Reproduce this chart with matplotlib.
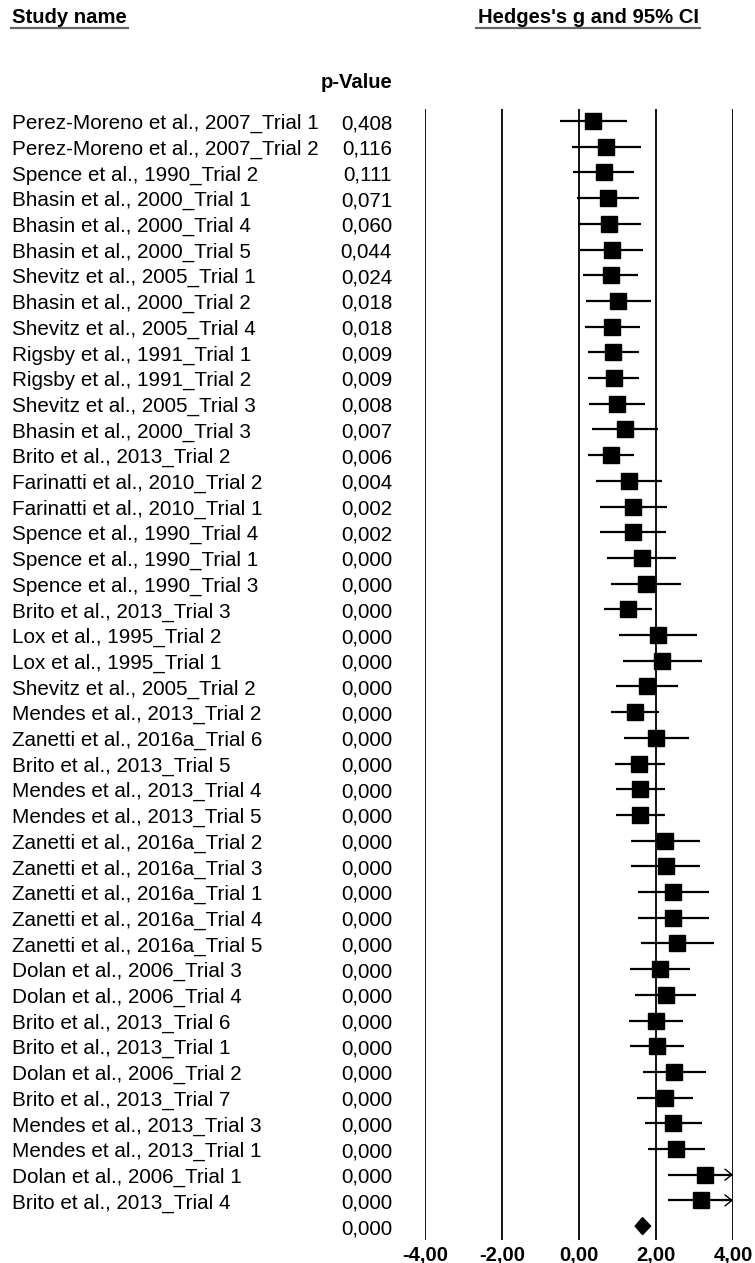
import matplotlib
matplotlib.use('Agg')
import matplotlib.pyplot as plt
import matplotlib.transforms as mtransforms
from matplotlib.patches import Polygon

plt.rcParams['font.family'] = ['Liberation Sans', 'DejaVu Sans']

studies = [
    "Perez-Moreno et al., 2007_Trial 1",
    "Perez-Moreno et al., 2007_Trial 2",
    "Spence et al., 1990_Trial 2",
    "Bhasin et al., 2000_Trial 1",
    "Bhasin et al., 2000_Trial 4",
    "Bhasin et al., 2000_Trial 5",
    "Shevitz et al., 2005_Trial 1",
    "Bhasin et al., 2000_Trial 2",
    "Shevitz et al., 2005_Trial 4",
    "Rigsby et al., 1991_Trial 1",
    "Rigsby et al., 1991_Trial 2",
    "Shevitz et al., 2005_Trial 3",
    "Bhasin et al., 2000_Trial 3",
    "Brito et al., 2013_Trial 2",
    "Farinatti et al., 2010_Trial 2",
    "Farinatti et al., 2010_Trial 1",
    "Spence et al., 1990_Trial 4",
    "Spence et al., 1990_Trial 1",
    "Spence et al., 1990_Trial 3",
    "Brito et al., 2013_Trial 3",
    "Lox et al., 1995_Trial 2",
    "Lox et al., 1995_Trial 1",
    "Shevitz et al., 2005_Trial 2",
    "Mendes et al., 2013_Trial 2",
    "Zanetti et al., 2016a_Trial 6",
    "Brito et al., 2013_Trial 5",
    "Mendes et al., 2013_Trial 4",
    "Mendes et al., 2013_Trial 5",
    "Zanetti et al., 2016a_Trial 2",
    "Zanetti et al., 2016a_Trial 3",
    "Zanetti et al., 2016a_Trial 1",
    "Zanetti et al., 2016a_Trial 4",
    "Zanetti et al., 2016a_Trial 5",
    "Dolan et al., 2006_Trial 3",
    "Dolan et al., 2006_Trial 4",
    "Brito et al., 2013_Trial 6",
    "Brito et al., 2013_Trial 1",
    "Dolan et al., 2006_Trial 2",
    "Brito et al., 2013_Trial 7",
    "Mendes et al., 2013_Trial 3",
    "Mendes et al., 2013_Trial 1",
    "Dolan et al., 2006_Trial 1",
    "Brito et al., 2013_Trial 4",
]

p_values = ["0,408", "0,116", "0,111", "0,071", "0,060", "0,044", "0,024",
            "0,018", "0,018", "0,009", "0,009", "0,008", "0,007", "0,006",
            "0,004", "0,002", "0,002"] + ["0,000"] * 26

g = [0.36, 0.71, 0.64, 0.75, 0.79, 0.85, 0.82, 1.02, 0.87, 0.89, 0.90,
     0.99, 1.19, 0.83, 1.29, 1.41, 1.39, 1.63, 1.73, 1.26, 2.05, 2.16,
     1.77, 1.45, 2.01, 1.57, 1.58, 1.59, 2.23, 2.25, 2.43, 2.45, 2.55,
     2.11, 2.25, 1.99, 2.03, 2.48, 2.23, 2.45, 2.53, 3.26, 3.16]

lower = [-0.49, -0.17, -0.15, -0.06, -0.03, 0.02, 0.11, 0.17, 0.16, 0.23,
         0.23, 0.27, 0.34, 0.24, 0.43, 0.54, 0.54, 0.74, 0.83, 0.65, 1.05,
         1.14, 0.96, 0.83, 1.16, 0.93, 0.95, 0.96, 1.35, 1.36, 1.52, 1.52,
         1.62, 1.33, 1.46, 1.29, 1.32, 1.65, 1.51, 1.71, 1.78, 2.32, 2.30]

upper = [1.24, 1.60, 1.44, 1.57, 1.60, 1.67, 1.54, 1.86, 1.58, 1.56, 1.57,
         1.72, 2.04, 1.44, 2.16, 2.29, 2.25, 2.53, 2.64, 1.90, 3.06, 3.19,
         2.58, 2.07, 2.87, 2.23, 2.23, 2.23, 3.13, 3.14, 3.37, 3.38, 3.51,
         2.89, 3.05, 2.69, 2.73, 3.30, 2.97, 3.19, 3.27, 4.20, 4.02]

summary_p = "0,000"
summary_g = 1.65
summary_lower = 1.46
summary_upper = 1.86

xticks = [-4, -2, 0, 2, 4]
xtick_labels = ["-4,00", "-2,00", "0,00", "2,00", "4,00"]

W, H = 755, 1263
fig = plt.figure(figsize=(W / 100, H / 100), dpi=100)

x0_px, x1_px = 425, 733
ytop_px, ybot_px = 109, 1240
row0_px, dy_px = 121, 25.7

ax = fig.add_axes([x0_px / W, 1 - ybot_px / H, (x1_px - x0_px) / W,
                   (ybot_px - ytop_px) / H])
ax.set_xlim(xticks[0], xticks[-1])
ax.set_ylim((ybot_px - row0_px) / dy_px, -(row0_px - ytop_px) / dy_px)
for sp in ax.spines.values():
    sp.set_visible(False)
ax.set_yticks([])
ax.set_xticks(xticks, xtick_labels, fontweight='bold', fontsize=14.6)
ax.tick_params(axis='x', length=0, pad=4)

for xv in xticks:
    ax.axvline(xv, color='black', lw=1.3, zorder=1)

xmax = xticks[-1]
for i in range(len(studies)):
    hi = min(upper[i], xmax)
    ax.plot([lower[i], hi], [i, i], color='black', lw=1.6, zorder=2,
            solid_capstyle='butt')
    if upper[i] > xmax:
        ax.annotate('', xy=(xmax, i), xytext=(xmax - 0.3, i),
                    arrowprops=dict(arrowstyle='->,head_length=0.5,head_width=0.4',
                                    lw=1.0, color='black',
                                    shrinkA=0, shrinkB=0),
                    annotation_clip=False)
    ax.plot([g[i]], [i], marker='s', color='black', markersize=12.2,
            zorder=3, linestyle='none')

ys = len(studies)
hh = 8.5 / dy_px
diamond = Polygon([(summary_lower, ys), (summary_g, ys - hh),
                   (summary_upper, ys), (summary_g, ys + hh)],
                  closed=True, color='black', zorder=3)
ax.add_patch(diamond)

trans = mtransforms.blended_transform_factory(fig.transFigure, ax.transData)
base_off = 8 / dy_px
fs = 14.9
for i, (name, p) in enumerate(zip(studies, p_values)):
    ax.text(12 / W, i + base_off, name, transform=trans, ha='left',
            va='baseline', fontsize=fs)
    ax.text(392 / W, i + base_off, p, transform=trans, ha='right',
            va='baseline', fontsize=fs)
ax.text(392 / W, ys + base_off, summary_p, transform=trans, ha='right',
        va='baseline', fontsize=fs)

hfs = 14.6
t1 = fig.text(12 / W, 1 - 23 / H, "Study name", ha='left', va='baseline',
              fontsize=hfs, fontweight='bold')
t2 = fig.text(588 / W, 1 - 23 / H, "Hedges's g and 95% CI", ha='center',
              va='baseline', fontsize=hfs, fontweight='bold')
fig.text(392 / W, 1 - 88 / H, "p-Value", ha='right', va='baseline',
         fontsize=hfs, fontweight='bold')

fig.canvas.draw()
r = fig.canvas.get_renderer()
for t in (t1, t2):
    bb = t.get_window_extent(renderer=r)
    yline = 1 - 28 / H
    fig.add_artist(plt.Line2D([bb.x0 / W - 1 / W, bb.x1 / W + 1 / W],
                              [yline, yline], color='#666666', lw=1.6,
                              transform=fig.transFigure))

fig.savefig('out.png', dpi=100)
